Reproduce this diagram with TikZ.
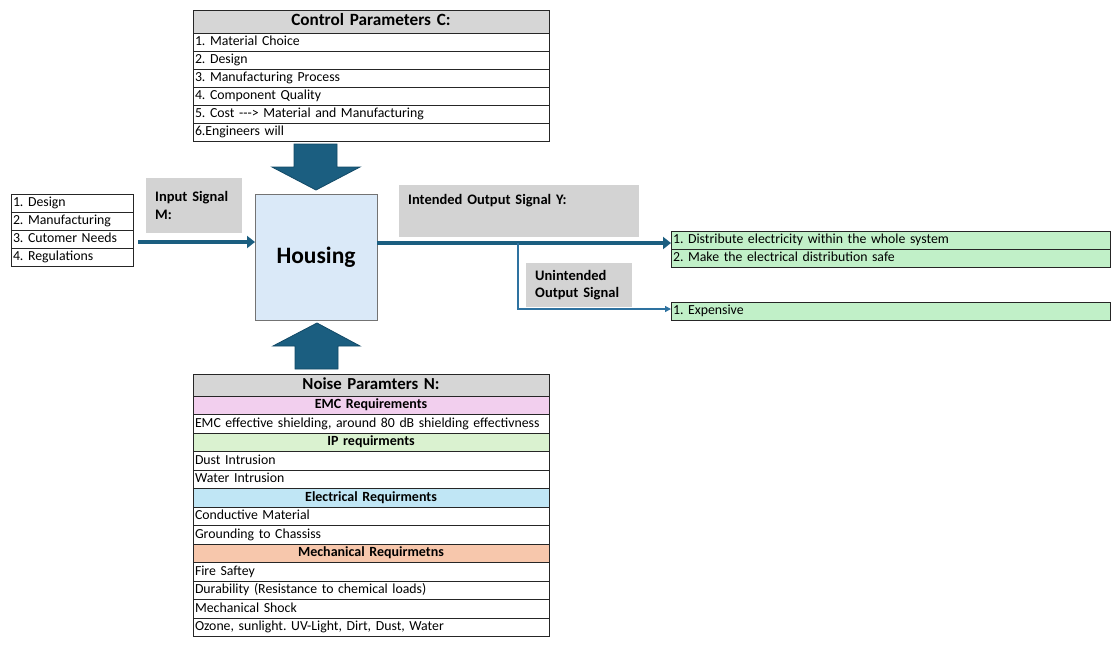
\documentclass[tikz,border=0pt]{standalone}
\usepackage{fontspec}
\setmainfont{Carlito}
\frenchspacing
\usetikzlibrary{arrows.meta}
\definecolor{hdrgray}{HTML}{D6D6D6}
\definecolor{labgray}{HTML}{D3D3D3}
\definecolor{pinkc}{HTML}{F2CFEE}
\definecolor{greenc}{HTML}{DAF2D0}
\definecolor{bluec}{HTML}{C0E6F5}
\definecolor{orangec}{HTML}{F7C7AC}
\definecolor{outgreen}{HTML}{C1F0C8}
\definecolor{housingblue}{HTML}{DAE9F8}
\definecolor{arrowfill}{HTML}{1B5E80}
\definecolor{arrowline}{HTML}{124966}
\definecolor{thinblue}{HTML}{2E72A0}
\tikzset{
  cellbase/.style={draw=black!85, line width=0.8pt, rectangle, outer sep=0pt,
    inner xsep=2pt, inner ysep=0pt, anchor=north west, align=left,
    text height=10pt, text depth=3pt, font=\fontsize{13.8}{16}\selectfont},
  ctrlrow/.style={cellbase, text width=352pt, minimum height=18pt},
  ctrlhead/.style={ctrlrow, fill=hdrgray, align=center, minimum height=23pt,
    text height=12pt, text depth=3.5pt, font=\fontsize{17.2}{20}\selectfont\bfseries},
  noiserow/.style={cellbase, text width=352pt, minimum height=18.5pt},
  noisehead/.style={noiserow, fill=hdrgray, align=center, minimum height=22pt,
    text height=12pt, text depth=3.5pt, font=\fontsize{16.8}{20}\selectfont\bfseries},
  noisesec/.style={noiserow, fill=#1, align=center,
    font=\fontsize{14}{16}\selectfont\bfseries},
  inrow/.style={cellbase, text width=118pt, minimum height=18pt},
  outrow/.style={cellbase, fill=outgreen, text width=435pt, minimum height=18pt},
  labbox/.style={fill=labgray, anchor=north west, align=left, inner xsep=9pt,
    inner ysep=0pt, font=\fontsize{14.5}{17.5}\selectfont\bfseries},
  blockarrow/.style={fill=arrowfill, draw=arrowline, line width=0.8pt, line join=miter},
  thickarrow/.style={draw=arrowfill, line width=4.5pt,
    -{Triangle[length=8pt,width=12pt]}},
  thinarrow/.style={draw=thinblue, line width=1.3pt,
    -{Triangle[length=6pt,width=6pt]}}
}
\begin{document}
\begin{tikzpicture}[x=1pt,y=-1pt]
\useasboundingbox (0,0) rectangle (1111,646);

% Control parameters table
\node[ctrlhead] (ctitle) at (193,10) {Control Parameters C:};
\node[ctrlrow] (c1) at (ctitle.south west) {1. Material Choice};
\node[ctrlrow] (c2) at (c1.south west) {2. Design};
\node[ctrlrow] (c3) at (c2.south west) {3. Manufacturing Process};
\node[ctrlrow] (c4) at (c3.south west) {4. Component Quality};
\node[ctrlrow] (c5) at (c4.south west) {5. Cost -\kern0pt-\kern0pt-> Material and Manufacturing};
\node[ctrlrow] (c6) at (c5.south west) {6.Engineers will};

% Housing
\node[draw=black!55, line width=1pt, fill=housingblue, minimum width=122pt,
  minimum height=126pt, anchor=north west, outer sep=0pt,
  font=\fontsize{23.5}{28}\selectfont\bfseries] (housing) at (255,194) {Housing};

% Block arrows
\draw[blockarrow, shift={(housing.north)}]
  (-22,-50) -- (21,-50) -- (21,-27) -- (44,-27) -- (0,-4) -- (-44,-27) -- (-22,-27) -- cycle;
\draw[blockarrow, shift={(housing.south)}]
  (-21,49) -- (22,49) -- (22,26) -- (44,26) -- (1,3) -- (-43,26) -- (-21,26) -- cycle;

% Input list
\node[inrow] (i1) at (11,194) {1. Design};
\node[inrow] (i2) at (i1.south west) {2. Manufacturing};
\node[inrow] (i3) at (i2.south west) {3. Cutomer Needs};
\node[inrow] (i4) at (i3.south west) {4. Regulations};

% Label boxes
\node[labbox, text width=78pt, minimum height=55pt] (inlab) at (146,178) {Input Signal\\M:};
\node[labbox, text width=222pt, minimum height=52pt] (outlab) at (399,185) {Intended Output Signal Y:\\\strut};
\node[labbox, text width=88pt, minimum height=44pt] (unlab) at (526,263) {Unintended\\Output Signal};

% Output lists
\node[outrow] (o1) at (671,231) {1. Distribute electricity within the whole system};
\node[outrow] (o2) at (o1.south west) {2. Make the electrical distribution safe};
\node[outrow] (e1) at (671,302) {1. Expensive};

% Connectors
\coordinate (inpt) at (138,242);
\draw[thickarrow] (inpt) -- (inpt -| housing.west);
\coordinate (yout) at (377,243);
\draw[thickarrow] (yout) -- (yout -| o1.west);
\coordinate (br) at (518,243);
\draw[thinarrow] (br) |- ([yshift=2pt]e1.west);

% Noise parameters table
\node[noisehead] (ntitle) at (193,374) {Noise Paramters N:};
\node[noisesec=pinkc] (n1) at (ntitle.south west) {EMC Requirements};
\node[noiserow] (n2) at (n1.south west) {EMC effective shielding, around 80 dB shielding effectivness};
\node[noisesec=greenc] (n3) at (n2.south west) {IP requirments};
\node[noiserow] (n4) at (n3.south west) {Dust Intrusion};
\node[noiserow] (n5) at (n4.south west) {Water Intrusion};
\node[noisesec=bluec] (n6) at (n5.south west) {Electrical Requirments};
\node[noiserow] (n7) at (n6.south west) {Conductive Material};
\node[noiserow] (n8) at (n7.south west) {Grounding to Chassiss};
\node[noisesec=orangec] (n9) at (n8.south west) {Mechanical Requirmetns};
\node[noiserow] (n10) at (n9.south west) {Fire Saftey};
\node[noiserow] (n11) at (n10.south west) {Durability (Resistance to chemical loads)};
\node[noiserow] (n12) at (n11.south west) {Mechanical Shock};
\node[noiserow] (n13) at (n12.south west) {Ozone, sunlight. UV-Light, Dirt, Dust, Water};
\end{tikzpicture}
\end{document}
